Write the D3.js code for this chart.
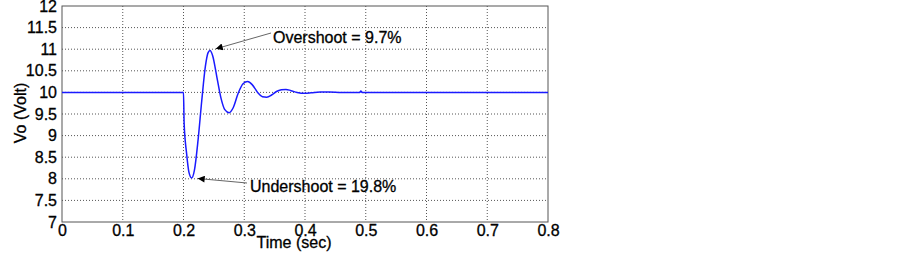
<!DOCTYPE html>
<html>
<head>
<meta charset="utf-8">
<script src="https://cdn.jsdelivr.net/npm/d3@7"></script>
<style>
  body { margin: 0; background: #fff; }
  svg text { font-family: "Liberation Sans", Arial, sans-serif; fill: #000; stroke: #000; stroke-width: 0.3px; }
</style>
</head>
<body>
<svg id="chart" width="902" height="253"></svg>
<script>
// response of Vo after the load step
const timeSec = [0, 0.2, 0.201, 0.205, 0.209, 0.2135, 0.218, 0.224, 0.23, 0.236, 0.2405, 0.2436,
  0.248, 0.255, 0.262, 0.268, 0.275, 0.282, 0.29, 0.298, 0.3056, 0.313, 0.322, 0.33, 0.337,
  0.345, 0.353, 0.361, 0.3687, 0.377, 0.387, 0.4, 0.41, 0.425, 0.44, 0.46, 0.49, 0.492, 0.494, 0.8];
const voltVo = [10, 10, 9.3, 8.6, 8.15, 8.02, 8.2, 8.9, 9.8, 10.6, 10.92, 10.97,
  10.85, 10.35, 9.85, 9.6, 9.53, 9.65, 9.98, 10.2, 10.25, 10.18, 10.0, 9.9, 9.89,
  9.94, 10.02, 10.06, 10.07, 10.04, 10.0, 9.98, 9.99, 10.01, 10.01, 10, 10, 10.03, 10, 10];

const xTicks = [0, 0.1, 0.2, 0.3, 0.4, 0.5, 0.6, 0.7, 0.8];
const yTicks = [7, 7.5, 8, 8.5, 9, 9.5, 10, 10.5, 11, 11.5, 12];

// annotations: label, point on curve, text anchor
const notes = [
  { label: "Overshoot = 9.7%", t: 0.2436, v: 10.97, tx: 273, ty: 43, ax: 271, ay: 33 },
  { label: "Undershoot = 19.8%", t: 0.2135, v: 8.02, tx: 250, ty: 192, ax: 247, ay: 183 }
];

const margin = { top: 6, left: 62 };
const width = 486, height = 216;

const svg = d3.select("#chart");
const g = svg.append("g").attr("transform", `translate(${margin.left},${margin.top})`);

const x = d3.scaleLinear().domain([0, 0.8]).range([0, width]);
const y = d3.scaleLinear().domain([7, 12]).range([height, 0]);

g.append("rect").attr("width", width).attr("height", height).attr("fill", "#fff");

// dotted grid
g.append("g").selectAll("line").data(xTicks.slice(1, -1)).join("line")
  .attr("x1", d => x(d)).attr("x2", d => x(d))
  .attr("y1", 0).attr("y2", height)
  .attr("stroke", "#555").attr("stroke-width", 1).attr("stroke-dasharray", "1,2");
g.append("g").selectAll("line").data(yTicks.slice(1, -1)).join("line")
  .attr("y1", d => y(d)).attr("y2", d => y(d))
  .attr("x1", 0).attr("x2", width)
  .attr("stroke", "#555").attr("stroke-width", 1).attr("stroke-dasharray", "1,2");

// axes
const xAxis = g.append("g").attr("transform", `translate(0,${height})`)
  .call(d3.axisBottom(x).tickValues(xTicks).tickSize(0).tickPadding(3).tickFormat(d3.format("")));
const yAxis = g.append("g")
  .call(d3.axisLeft(y).tickValues(yTicks).tickSize(0).tickPadding(5).tickFormat(d3.format("")));
[xAxis, yAxis].forEach(a => {
  a.select(".domain").remove();
  a.selectAll("text").attr("font-size", 16).attr("font-family", "Liberation Sans, Arial, sans-serif").attr("fill", "#000");
});

// box
g.append("rect").attr("width", width).attr("height", height)
  .attr("fill", "none").attr("stroke", "#555").attr("stroke-width", 1);

// curve
const line = d3.line()
  .x((d, i) => x(timeSec[i]))
  .y(d => y(d))
  .curve(d3.curveMonotoneX);
g.append("path").datum(voltVo)
  .attr("d", line)
  .attr("fill", "none").attr("stroke", "#1a1aff").attr("stroke-width", 1.5);

// arrows
svg.append("defs").append("marker")
  .attr("id", "head").attr("viewBox", "0 0 10 10").attr("refX", 10).attr("refY", 5)
  .attr("markerWidth", 9).attr("markerHeight", 7).attr("markerUnits", "userSpaceOnUse")
  .attr("orient", "auto")
  .append("path").attr("d", "M0,0L10,5L0,10z").attr("fill", "#000");

notes.forEach(n => {
  const px = margin.left + x(n.t), py = margin.top + y(n.v);
  const dx = n.ax - px, dy = n.ay - py, len = Math.hypot(dx, dy);
  svg.append("line")
    .attr("x1", n.ax).attr("y1", n.ay)
    .attr("x2", px + dx / len * 6).attr("y2", py + dy / len * 6)
    .attr("stroke", "#666").attr("stroke-width", 1)
    .attr("marker-end", "url(#head)");
  svg.append("text").attr("x", n.tx).attr("y", n.ty)
    .attr("font-size", 16).text(n.label);
});

// axis titles
svg.append("text").attr("x", 294).attr("y", 248).attr("text-anchor", "middle")
  .attr("font-size", 16).text("Time (sec)");
svg.append("text").attr("transform", "translate(26,113) rotate(-90)").attr("text-anchor", "middle")
  .attr("font-size", 16).text("Vo (Volt)");
</script>
</body>
</html>
